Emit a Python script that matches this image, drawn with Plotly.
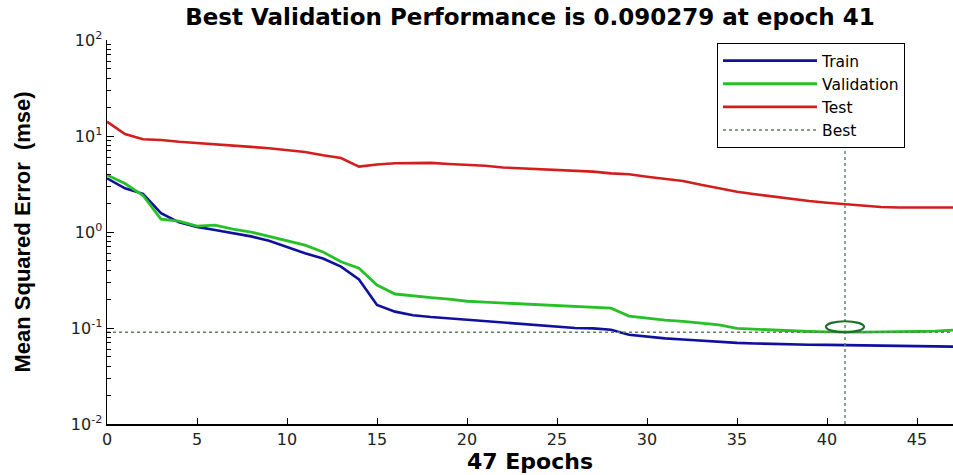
import plotly.graph_objects as go

epochs = list(range(48))

train = [3.62, 2.85, 2.5, 1.57, 1.26, 1.13, 1.05, 0.97, 0.9, 0.81,
         0.70, 0.6, 0.53, 0.436, 0.32, 0.174, 0.148, 0.136, 0.13, 0.126,
         0.121, 0.117, 0.113, 0.11, 0.107, 0.103, 0.100, 0.099, 0.096, 0.085,
         0.081, 0.078, 0.076, 0.074, 0.071, 0.070, 0.069, 0.068, 0.067, 0.067,
         0.0667, 0.0665, 0.066, 0.0655, 0.065, 0.0645, 0.0643, 0.064]

validation = [3.93, 3.2, 2.4, 1.36, 1.30, 1.15, 1.18, 1.07, 1.0, 0.9,
              0.82, 0.73, 0.62, 0.49, 0.42, 0.28, 0.226, 0.215, 0.207, 0.2,
              0.19, 0.186, 0.182, 0.178, 0.175, 0.17, 0.167, 0.164, 0.161, 0.133,
              0.126, 0.121, 0.117, 0.113, 0.108, 0.099, 0.097, 0.095, 0.093, 0.092,
              0.091, 0.090279, 0.0905, 0.091, 0.091, 0.092, 0.093, 0.095]

test = [14.1, 10.5, 9.25, 9.1, 8.7, 8.4, 8.2, 7.9, 7.7, 7.45,
        7.15, 6.8, 6.3, 5.9, 4.8, 5.05, 5.2, 5.25, 5.25, 5.1,
        5.0, 4.9, 4.7, 4.6, 4.5, 4.4, 4.35, 4.25, 4.08, 4.0,
        3.77, 3.56, 3.4, 3.1, 2.85, 2.63, 2.47, 2.33, 2.2, 2.1,
        2.02, 1.94, 1.87, 1.82, 1.8, 1.8, 1.8, 1.8]

best_epoch = 41
best_value = 0.090279
n_epochs = 47

ytick_vals = [0.01, 0.1, 1, 10, 100]
ytick_text = ["10<sup>-2</sup>", "10<sup>-1</sup>", "10<sup>0</sup>", "10<sup>1</sup>", "10<sup>2</sup>"]
yminor_vals = [m * d for d in [0.01, 0.1, 1, 10] for m in range(2, 10)]
xtick_vals = [0, 5, 10, 15, 20, 25, 30, 35, 40, 45]

BLUE = "#10109E"
GREEN = "#28C028"
RED = "#D41E1E"
BEST = "#5E7E62"

W, H = 953, 475

fig = go.Figure()
fig.add_trace(go.Scatter(x=epochs, y=train, mode="lines", name="Train",
                         line=dict(color=BLUE, width=2.6)))
fig.add_trace(go.Scatter(x=epochs, y=validation, mode="lines", name="Validation",
                         line=dict(color=GREEN, width=2.8)))
fig.add_trace(go.Scatter(x=epochs, y=test, mode="lines", name="Test",
                         line=dict(color=RED, width=2.6)))
fig.add_trace(go.Scatter(x=[0, n_epochs, None, best_epoch, best_epoch],
                         y=[best_value, best_value, None, ytick_vals[0], ytick_vals[-1]],
                         mode="lines", name="Best",
                         line=dict(color=BEST, width=1.4, dash="dot")))
# invisible carrier trace for the minor-tick axis
fig.add_trace(go.Scatter(x=epochs, y=test, mode="lines", yaxis="y2",
                         showlegend=False, hoverinfo="skip", opacity=0,
                         line=dict(width=0)))

# best-point ellipse marker
fig.add_shape(type="circle", xref="x", yref="y",
              xsizemode="pixel", ysizemode="pixel",
              xanchor=best_epoch, yanchor=best_value,
              x0=-19, x1=19, y0=-11, y1=11,
              line=dict(color="#1E6E2A", width=2.2))

fig.update_layout(
    width=W, height=H,
    margin=dict(l=107, r=0, t=40, b=51, autoexpand=False),
    paper_bgcolor="white", plot_bgcolor="white",
    title=dict(text="<b>Best Validation Performance is 0.090279 at epoch 41</b>",
               x=0.5, xref="paper", xanchor="center",
               y=1 - 17 / H, yref="container", yanchor="middle",
               font=dict(family="DejaVu Sans", size=23, color="black")),
    legend=dict(x=(717 - 107) / 846, y=1 - 3 / 384, xanchor="left", yanchor="top",
                bgcolor="white", bordercolor="black", borderwidth=1,
                font=dict(family="DejaVu Sans", size=15.5, color="black"),
                tracegroupgap=0, itemwidth=94),
    hovermode=False,
    showlegend=True,
)

fig.update_xaxes(range=[0, n_epochs], tickvals=xtick_vals,
                 showline=True, linecolor="black", linewidth=1.5,
                 ticks="inside", ticklen=6, tickcolor="black",
                 showgrid=False, zeroline=False,
                 tickfont=dict(family="DejaVu Sans", size=16, color="#222"),
                 title=dict(text="<b>47 Epochs</b>", standoff=2,
                            font=dict(family="DejaVu Sans", size=22, color="black")))

fig.update_layout(yaxis=dict(
    type="log", range=[-2, 2], tickvals=ytick_vals, ticktext=ytick_text,
    showline=True, linecolor="black", linewidth=1.5,
    ticks="inside", ticklen=7, tickcolor="black",
    showgrid=False, zeroline=False,
    tickfont=dict(family="DejaVu Sans", size=16, color="#222"),
    title=dict(text="<b>Mean Squared Error  (mse)</b>", standoff=34,
               font=dict(family="Liberation Sans", size=22, color="black"))),
    yaxis2=dict(
    type="log", range=[-2, 2], overlaying="y", side="left", anchor="x",
    tickvals=yminor_vals, showticklabels=False,
    ticks="inside", ticklen=4, tickcolor="black",
    showline=False, showgrid=False, zeroline=False))

fig.write_html("out.html",
               config={"displayModeBar": False, "staticPlot": True},
               post_script="document.body.style.margin='0';document.body.style.overflow='hidden';")
